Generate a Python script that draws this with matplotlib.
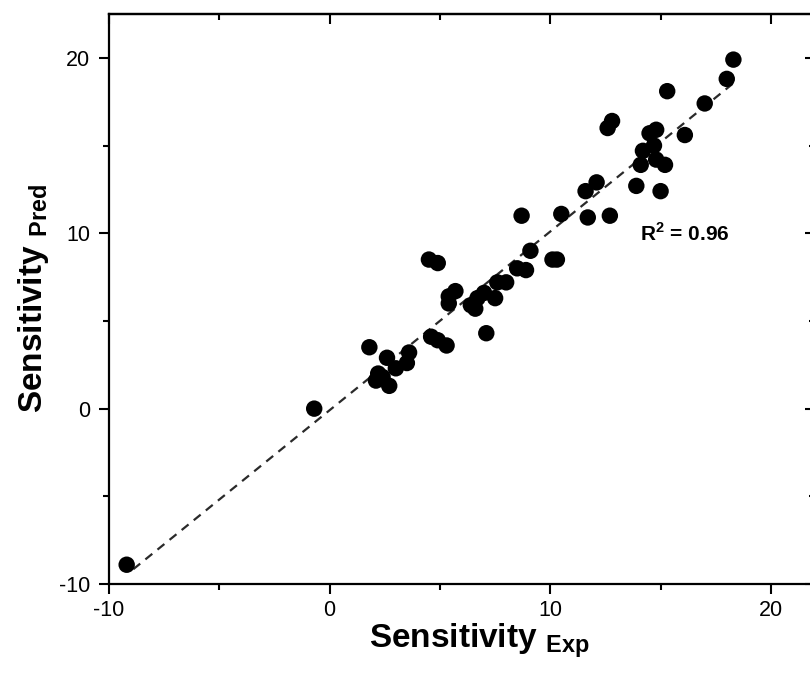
import matplotlib
matplotlib.use('Agg')
import matplotlib.pyplot as plt
import numpy as np

plt.rcParams['font.family'] = ['Liberation Sans', 'DejaVu Sans']
plt.rcParams['mathtext.fontset'] = 'custom'
plt.rcParams['mathtext.rm'] = 'Liberation Sans'
plt.rcParams['mathtext.bf'] = 'Liberation Sans:bold'
plt.rcParams['axes.unicode_minus'] = False

# data
sens_exp = [-9.2, -0.7, 1.8, 2.6, 2.2, 2.1, 2.4, 2.7, 3.0, 3.5, 3.6,
            4.6, 4.9, 5.3, 4.5, 4.9, 5.4, 5.4, 5.7, 6.4, 6.6, 6.7, 7.0,
            7.5, 7.6, 8.0, 8.5, 8.9, 9.1, 10.1, 10.3, 7.1, 8.7, 10.5,
            11.6, 12.1, 11.7, 12.7, 12.6, 12.8, 13.9, 15.0, 14.1, 14.8,
            15.2, 14.2, 14.7, 14.5, 14.8, 16.1, 15.3, 17.0, 18.0, 18.3]
sens_pred = [-8.9, 0.0, 3.5, 2.9, 2.0, 1.6, 1.8, 1.3, 2.3, 2.6, 3.2,
             4.1, 3.9, 3.6, 8.5, 8.3, 6.0, 6.4, 6.7, 5.9, 5.7, 6.3, 6.6,
             6.3, 7.2, 7.2, 8.0, 7.9, 9.0, 8.5, 8.5, 4.3, 11.0, 11.1,
             12.4, 12.9, 10.9, 11.0, 16.0, 16.4, 12.7, 12.4, 13.9, 14.2,
             13.9, 14.7, 15.0, 15.7, 15.9, 15.6, 18.1, 17.4, 18.8, 19.9]
r2_label = 'R$^\\mathbf{2}$ = 0.96'

x = np.array(sens_exp)
y = np.array(sens_pred)

fig = plt.figure(figsize=(8.1, 6.87), dpi=100)
ax = fig.add_axes([0.1346, 0.1499, 0.8716, 0.8297])

ax.scatter(x, y, s=140, color='black', edgecolors='none', zorder=3)

# linear fit, dashed
k, b = np.polyfit(x, y, 1)
xf = np.array([x.min() + 0.3, x.max()])
ax.plot(xf, k * xf + b, '--', color='#2a2a2a', lw=1.6, dashes=(4, 3), zorder=2)

ax.text(14.05, 10.0, r2_label, fontsize=15, fontweight='bold', ha='left', va='center')

ax.set_xlim(-10, 22)
ax.set_ylim(-10, 22.5)
ax.set_xticks([-10, 0, 10, 20])
ax.set_yticks([-10, 0, 10, 20])
ax.set_xticks([-5, 5, 15], minor=True)
ax.set_yticks([-5, 5, 15], minor=True)
ax.tick_params(which='major', direction='out', length=7.5, width=1.5, labelsize=15.5, pad=4)
ax.tick_params(which='minor', direction='out', length=4, width=1.5)
ax.tick_params(axis='y', which='major', pad=6)
for sp in ax.spines.values():
    sp.set_linewidth(1.6)

# mirrored ticks on top and right, pointing in
top = ax.secondary_xaxis('top')
top.set_xticks([-10, 0, 10, 20])
top.set_xticks([-5, 5, 15], minor=True)
top.tick_params(which='major', direction='in', length=7.5, width=1.5, labeltop=False)
top.tick_params(which='minor', direction='in', length=4, width=1.5)
top.spines['top'].set_linewidth(1.6)
right = ax.secondary_yaxis('right')
right.set_yticks([-10, 0, 10, 20])
right.set_yticks([-5, 5, 15], minor=True)
right.tick_params(which='major', direction='in', length=7.5, width=1.5, labelright=False)
right.tick_params(which='minor', direction='in', length=4, width=1.5)

ax.set_xlabel('Sensitivity $\\mathbf{_{Exp}}$', fontsize=24, fontweight='bold', labelpad=6)
ax.set_ylabel('Sensitivity $\\mathbf{_{Pred}}$', fontsize=24, fontweight='bold', labelpad=6)
ax.xaxis.set_label_coords(0.524, -0.065, transform=ax.transAxes)
ax.xaxis.label.set_va('top')

fig.savefig('out.png', dpi=100)
